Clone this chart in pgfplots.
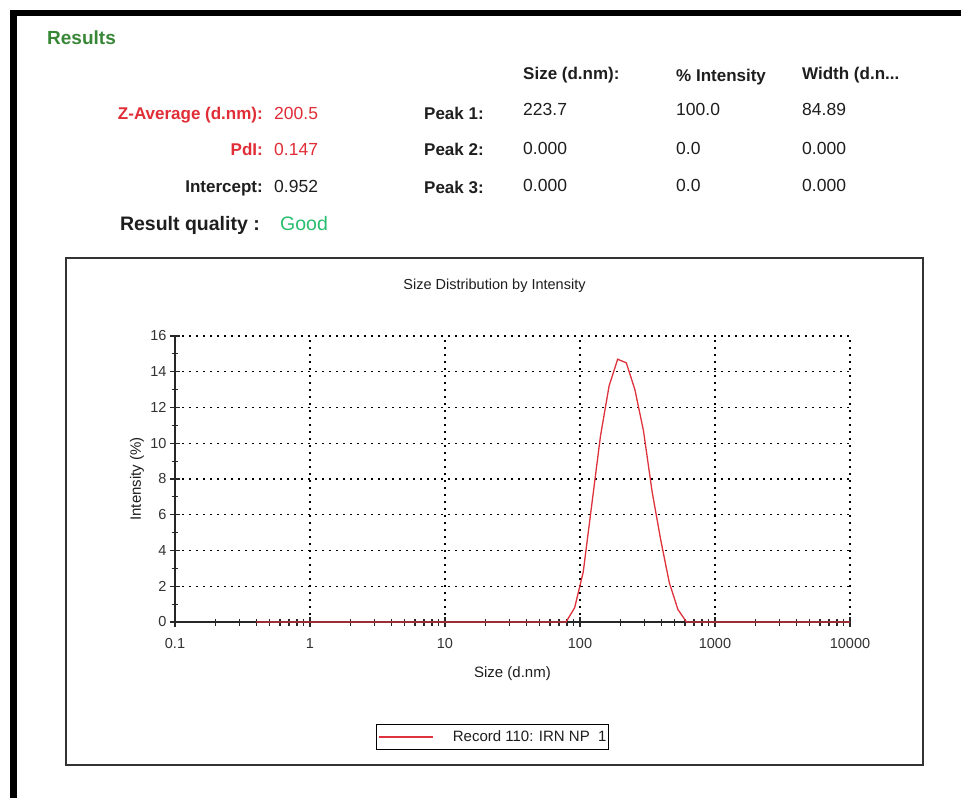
\documentclass[border=0pt]{standalone}
\usepackage{pgfplots}
\pgfplotsset{compat=1.18}
\usepackage{fontspec}
\setmainfont{Liberation Sans}
\definecolor{resgreen}{RGB}{55,135,55}
\definecolor{labred}{RGB}{225,45,55}
\definecolor{goodgreen}{RGB}{40,190,110}
\definecolor{curvered}{RGB}{222,50,60}
\definecolor{txt}{RGB}{30,30,30}
\newcommand{\lab}{\fontsize{17}{20}\selectfont\bfseries}
\newcommand{\val}{\fontsize{17.5}{20}\selectfont}
\begin{document}
\begin{tikzpicture}
\path[use as bounding box, fill=white] (0pt,0pt) rectangle (961pt,798pt);
% frame bars
\fill[black] (10pt,782pt) rectangle (961pt,788pt);
\fill[black] (10pt,0pt) rectangle (16.5pt,788pt);
% header texts
\node[anchor=base west, text=resgreen, inner sep=0pt] at (47pt,753pt) {\fontsize{19}{22}\selectfont\bfseries Results};
\node[anchor=base east, text=labred, inner sep=0pt] at (263pt,678.5pt) {\lab Z-Average (d.nm):};
\node[anchor=base east, text=labred, inner sep=0pt] at (263pt,642pt) {\lab PdI:};
\node[anchor=base east, text=txt, inner sep=0pt] at (263pt,605pt) {\lab Intercept:};
\node[anchor=base east, text=txt, inner sep=0pt] at (260pt,567pt) {\fontsize{19.5}{22}\selectfont\bfseries Result quality :};
\node[anchor=base west, text=labred, inner sep=0pt] at (274pt,678.5pt) {\val 200.5};
\node[anchor=base west, text=labred, inner sep=0pt] at (274pt,642pt) {\val 0.147};
\node[anchor=base west, text=txt, inner sep=0pt] at (274pt,605pt) {\val 0.952};
\node[anchor=base west, text=goodgreen, inner sep=0pt] at (280pt,567pt) {\fontsize{19.5}{22}\selectfont Good};
\node[anchor=base west, text=txt, inner sep=0pt] at (424pt,678pt) {\lab Peak 1:};
\node[anchor=base west, text=txt, inner sep=0pt] at (424pt,642pt) {\lab Peak 2:};
\node[anchor=base west, text=txt, inner sep=0pt] at (424pt,604pt) {\lab Peak 3:};
\node[anchor=base west, text=txt, inner sep=0pt] at (523pt,718pt) {\lab Size (d.nm):};
\node[anchor=base west, text=txt, inner sep=0pt] at (676pt,716pt) {\lab \% Intensity};
\node[anchor=base west, text=txt, inner sep=0pt] at (802pt,718pt) {\lab Width (d.n...};
\node[anchor=base west, text=txt, inner sep=0pt] at (523pt,682pt) {\val 223.7};
\node[anchor=base west, text=txt, inner sep=0pt] at (676pt,682pt) {\val 100.0};
\node[anchor=base west, text=txt, inner sep=0pt] at (802pt,682pt) {\val 84.89};
\node[anchor=base west, text=txt, inner sep=0pt] at (523pt,643pt) {\val 0.000};
\node[anchor=base west, text=txt, inner sep=0pt] at (676pt,643pt) {\val 0.0};
\node[anchor=base west, text=txt, inner sep=0pt] at (802pt,643pt) {\val 0.000};
\node[anchor=base west, text=txt, inner sep=0pt] at (523pt,606pt) {\val 0.000};
\node[anchor=base west, text=txt, inner sep=0pt] at (676pt,606pt) {\val 0.0};
\node[anchor=base west, text=txt, inner sep=0pt] at (802pt,606pt) {\val 0.000};
% chart panel
\draw[black!80, line width=1.5pt] (66pt,33pt) rectangle (923pt,540pt);
\node[text=txt, inner sep=0pt] at (494.5pt,512pt) {\fontsize{14.5}{17}\selectfont Size Distribution by Intensity};
\begin{axis}[
  at={(175pt,176pt)}, anchor=south west,
  width=675pt, height=286pt, scale only axis,
  xmode=log, log basis x=10,
  xmin=0.1, xmax=10000, ymin=0, ymax=16,
  xtick={0.1,1,10,100,1000,10000},
  xticklabels={0.1,1,10,100,1000,10000},
  minor xtick={0.2,0.3,0.4,0.5,0.6,0.7,0.8,0.9,2,3,4,5,6,7,8,9,20,30,40,50,60,70,80,90,200,300,400,500,600,700,800,900,2000,3000,4000,5000,6000,7000,8000,9000},
  ytick={0,2,4,6,8,10,12,14,16},
  minor ytick={1,3,5,7,9,11,13,15},
  axis lines=left,
  axis line style={-, line width=1.3pt, black!85},
  tick align=center,
  major tick length=10pt, minor tick length=7pt,
  every tick/.style={line width=1.2pt, black!85},
  grid=major,
  major grid style={black, line width=1.3pt, dash pattern=on 2.3pt off 4.7pt},
  /pgf/number format/assume math mode=true,
  ticklabel style={font=\fontsize{14.5}{16}\selectfont, text=black!80},
  xticklabel style={yshift=-8pt},
  xlabel={Size (d.nm)},
  ylabel={Intensity (\%)},
  xlabel style={at={(axis description cs:0.5,-0.1818)}, anchor=center, font=\fontsize{15}{17}\selectfont, text=txt},
  ylabel style={at={(axis description cs:-0.0563,0.5)}, anchor=center, font=\fontsize{15}{17}\selectfont, text=txt},
  clip=false,
  legend style={at={(axis description cs:0.4704,-0.402)}, anchor=center, draw=black, line width=1.2pt,
    inner xsep=2pt, inner ysep=6.5pt, font=\fontsize{15}{17}\selectfont, nodes={inner sep=0pt, text=txt},
    /tikz/every odd column/.append style={column sep=19pt}},
  legend cell align=left,
  legend image code/.code={\draw[#1] (0pt,0pt) -- (54pt,0pt);},
]
\addplot[curvered, line width=1.3pt] coordinates {
(0.4,0) (68.06,0) (78.82,0) (91.28,0.8) (105.7,2.8) (122.4,6.6) (141.8,10.4) (164.2,13.2) (190.1,14.7) (220.2,14.5) (255.0,13.0) (295.3,10.7) (342.0,7.3) (396.1,4.6) (458.7,2.2) (531.2,0.7) (615.1,0) (10000,0)
};
\addlegendentry{Record 110: IRN NP\ \ 1}
\end{axis}
\end{tikzpicture}
\end{document}
